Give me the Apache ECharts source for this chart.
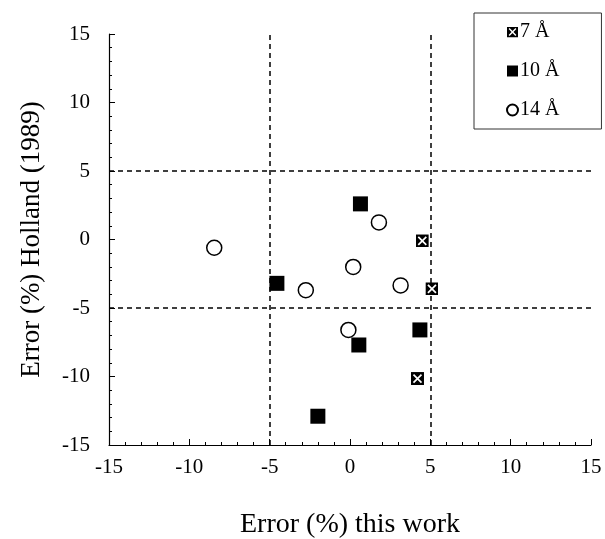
<!DOCTYPE html>
<html>
<head>
<meta charset="utf-8">
<script src="https://cdn.jsdelivr.net/npm/echarts@6/dist/echarts.min.js"></script>
<style>
  html, body { margin: 0; padding: 0; background: #fff; }
  #chart { width: 605px; height: 539px; }
</style>
</head>
<body>
<div id="chart"></div>
<script>
// Error (%) of this work vs. error (%) of Holland (1989), by pore width
const seriesNames = ['7 Å', '10 Å', '14 Å'];
const pts7 = [[4.5, -0.1], [5.1, -3.6], [4.2, -10.15]];
const pts10 = [[0.65, 2.6], [-4.55, -3.2], [4.35, -6.6], [0.55, -7.7], [-2.0, -12.9]];
const pts14 = [[-8.45, -0.6], [1.8, 1.25], [0.2, -2.0], [-2.75, -3.7], [3.15, -3.35], [-0.1, -6.6]];
const axisTicks = [-15, -10, -5, 0, 5, 10, 15];
const guideLines = [-5, 5];

const serif = '"Liberation Serif", "DejaVu Serif", serif';

// black square with a white cross
const crossSquare = 'image://data:image/svg+xml;utf8,' + encodeURIComponent(
  '<svg xmlns="http://www.w3.org/2000/svg" width="26" height="26" viewBox="0 0 26 26">' +
  '<rect x="0" y="0" width="26" height="26" fill="#000"/>' +
  '<path d="M5,5 L21,21 M21,5 L5,21" stroke="#fff" stroke-width="3.4"/>' +
  '</svg>');

const chart = echarts.init(document.getElementById('chart'));

const dashed = { color: '#000', type: [5, 4], width: 1.5 };

chart.setOption({
  animation: false,
  backgroundColor: '#fff',
  grid: {
    left: 109, top: 34, width: 482, height: 411,
    containLabel: false, outerBoundsMode: 'none'
  },
  xAxis: {
    type: 'value', min: axisTicks[0], max: axisTicks[axisTicks.length - 1], interval: 5,
    name: 'Error (%) this work', nameLocation: 'middle', nameGap: 66,
    nameTextStyle: { fontFamily: serif, fontSize: 28, color: '#000' },
    axisLine: { onZero: false, lineStyle: { color: '#000', width: 1.2 } },
    axisTick: { inside: true, length: 6, lineStyle: { color: '#000' } },
    minorTick: { show: true, splitNumber: 5, length: 3, lineStyle: { color: '#000' } },
    axisLabel: { fontFamily: serif, fontSize: 21, color: '#000', margin: 12 },
    splitLine: { show: false }
  },
  yAxis: {
    type: 'value', min: axisTicks[0], max: axisTicks[axisTicks.length - 1], interval: 5,
    name: 'Error (%) Holland (1989)', nameLocation: 'middle', nameGap: 64,
    nameTextStyle: { fontFamily: serif, fontSize: 27, color: '#000' },
    axisLine: { onZero: false, lineStyle: { color: '#000', width: 1.2 } },
    axisTick: { inside: true, length: 6, lineStyle: { color: '#000' } },
    minorTick: { show: true, splitNumber: 5, length: 3, lineStyle: { color: '#000' } },
    axisLabel: { fontFamily: serif, fontSize: 21, color: '#000', margin: 19 },
    splitLine: { show: false }
  },
  legend: {
    orient: 'vertical', left: 474, top: 13,
    padding: [9, 42, 9, 32], itemGap: 19, itemWidth: 11, itemHeight: 11,
    borderColor: '#333', borderWidth: 1, backgroundColor: '#fff',
    textStyle: { fontFamily: serif, fontSize: 20, color: '#000', padding: [0, 0, 0, -3] },
    data: seriesNames
  },
  series: [
    {
      name: seriesNames[0], type: 'scatter', data: pts7,
      symbol: crossSquare, symbolSize: 13, z: 5,
      itemStyle: { color: '#000', opacity: 1 },
      markLine: {
        silent: true, symbol: ['none', 'none'], label: { show: false },
        lineStyle: dashed,
        data: guideLines.map(v => ({ xAxis: v })).concat(guideLines.map(v => ({ yAxis: v })))
      }
    },
    {
      name: seriesNames[1], type: 'scatter', data: pts10,
      symbol: 'rect', symbolSize: 15, z: 5,
      itemStyle: { color: '#000', opacity: 1 }
    },
    {
      name: seriesNames[2], type: 'scatter', data: pts14,
      symbol: 'circle', symbolSize: 15, z: 5,
      itemStyle: { color: '#fff', borderColor: '#000', borderWidth: 1.5, opacity: 1 }
    }
  ]
});
</script>
</body>
</html>
